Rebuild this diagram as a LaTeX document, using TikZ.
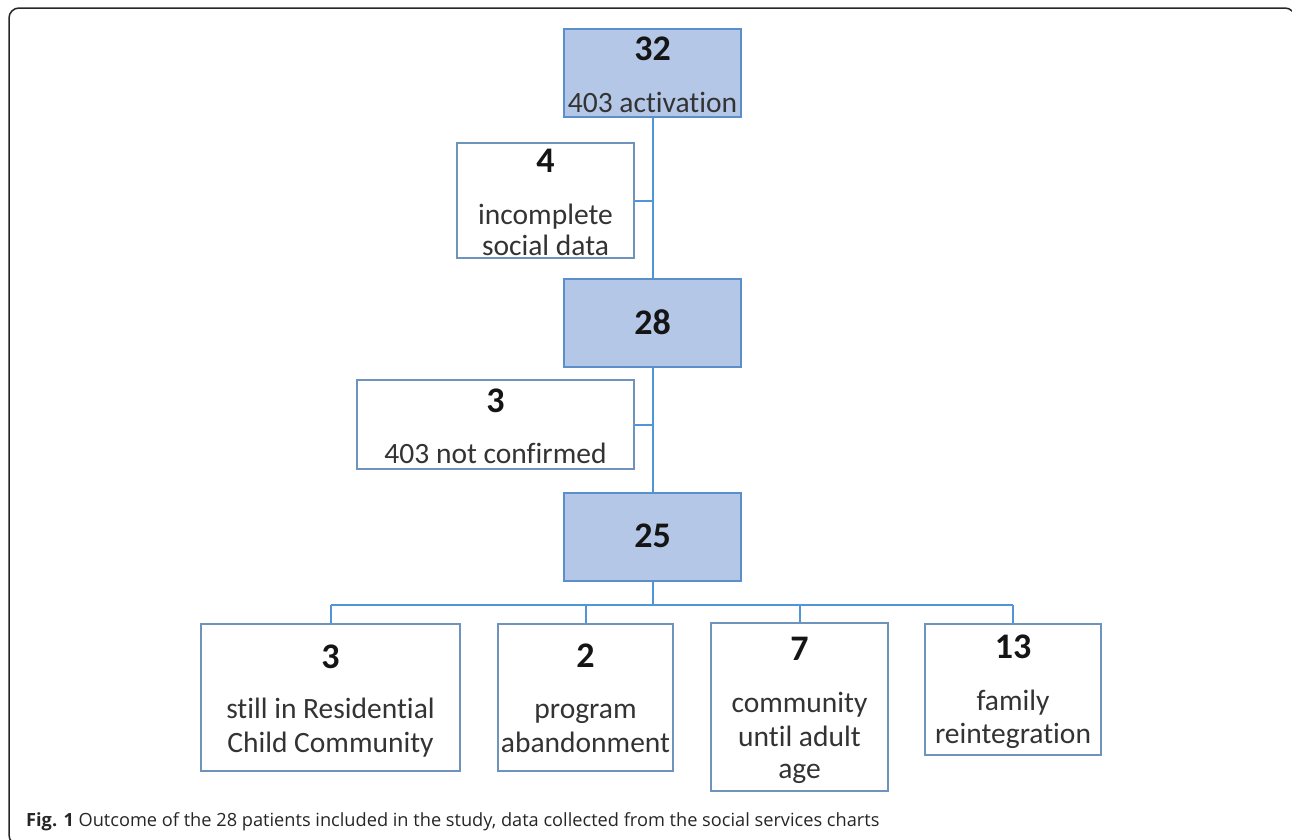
\documentclass[tikz,border=0pt]{standalone}
\usepackage{fontspec}
\setmainfont{Carlito}[RawFeature=-liga]
\newfontfamily\capfont{Open Sans}
\definecolor{boxfill}{HTML}{B4C7E7}
\definecolor{boxline}{HTML}{5B8FCB}
\definecolor{wline}{HTML}{6E93BC}
\definecolor{connclr}{HTML}{4F95D8}
\definecolor{txt}{HTML}{333333}
\definecolor{numclr}{HTML}{151515}
\begin{document}
\begin{tikzpicture}[x=1pt,y=-1pt,
  bluebox/.style={draw=boxline, fill=boxfill, line width=2.3pt, inner sep=0pt, rectangle},
  whitebox/.style={draw=wline, fill=white, line width=2.3pt, inner sep=0pt, rectangle},
  num/.style={anchor=base, font=\fontsize{36}{36}\selectfont\bfseries, text=numclr, inner sep=0pt},
  lbl/.style={anchor=base, font=\fontsize{29.5}{29.5}\selectfont, text=txt, inner sep=0pt},
  link/.style={draw=connclr, line width=2pt}]
\useasboundingbox (0,0) rectangle (1292,839);
\clip (0,0) rectangle (1292,839);
\draw[line width=1.5pt, draw=black!85, rounded corners=10pt] (9,8) rectangle (1295,845);

% boxes
\node[bluebox, minimum width=177pt, minimum height=88pt] (b32) at (652.5,73) {};
\node[whitebox, minimum width=177pt, minimum height=115pt] (b4) at (545.5,200.5) {};
\node[bluebox, minimum width=177pt, minimum height=88pt] (b28) at (652.5,323) {};
\node[whitebox, minimum width=277pt, minimum height=89pt] (b3) at (495.5,424.5) {};
\node[bluebox, minimum width=177pt, minimum height=88pt] (b25) at (652.5,537) {};
\node[whitebox, minimum width=259pt, minimum height=147pt] (ca) at (330.5,697.5) {};
\node[whitebox, minimum width=175pt, minimum height=147pt] (cb) at (585.5,697.5) {};
\node[whitebox, minimum width=177pt, minimum height=168pt] (cc) at (799.5,707) {};
\node[whitebox, minimum width=176pt, minimum height=131pt] (cd) at (1013,689.5) {};

% connectors
\coordinate (bus) at (652.5,605);
\draw[link] (b32.south) -- (b28.north);
\draw[link] (b28.south) -- (b25.north);
\draw[link] (b4.east) -- (b4.east -| b32.south);
\draw[link] (b3.east) -- (b3.east -| b28.south);
\draw[link] (b25.south) -- (bus);
\draw[link] (ca.north |- bus) -- (cd.north |- bus);
\draw[link] (ca.north |- bus) -- (ca.north);
\draw[link] (cb.north |- bus) -- (cb.north);
\draw[link] (cc.north |- bus) -- (cc.north);
\draw[link] (cd.north |- bus) -- (cd.north);

% texts
\node[num] (t32) at (652.5,60) {32};
\node[lbl] (t32a) at (652.5,112) {403 activation};
\node[num] (t4) at (545.5,172) {4};
\node[lbl] (t4a) at (545.5,224) {incomplete};
\node[lbl] (t4b) at (545.5,255) {social data};
\node[num] (t28) at (652.5,334) {28};
\node[num] (t3) at (495.5,412) {3};
\node[lbl] (t3a) at (495.5,463) {403 not confirmed};
\node[num] (t25) at (652.5,547) {25};
\node[num] (tA) at (330.5,668) {3};
\node[lbl] (tA1) at (330.5,718) {still in Residential};
\node[lbl] (tA2) at (330.5,752) {Child Community};
\node[num] (tB) at (585.5,667) {2};
\node[lbl] (tB1) at (585.5,718) {program};
\node[lbl] (tB2) at (585.5,752) {abandonment};
\node[num] (tC) at (799.5,660) {7};
\node[lbl] (tC1) at (799.5,712) {community};
\node[lbl] (tC2) at (799.5,746) {until adult};
\node[lbl] (tC3) at (799.5,778) {age};
\node[num] (tD) at (1013,658) {13};
\node[lbl] (tD1) at (1013,710) {family};
\node[lbl] (tD2) at (1013,743) {reintegration};

\node[anchor=base west, inner sep=0pt, text=black!85, font=\capfont\fontsize{18.2}{18.2}\selectfont] (cap) at (26,826) {\textbf{Fig. 1} Outcome of the 28 patients included in the study, data collected from the social services charts};
\end{tikzpicture}
\end{document}
